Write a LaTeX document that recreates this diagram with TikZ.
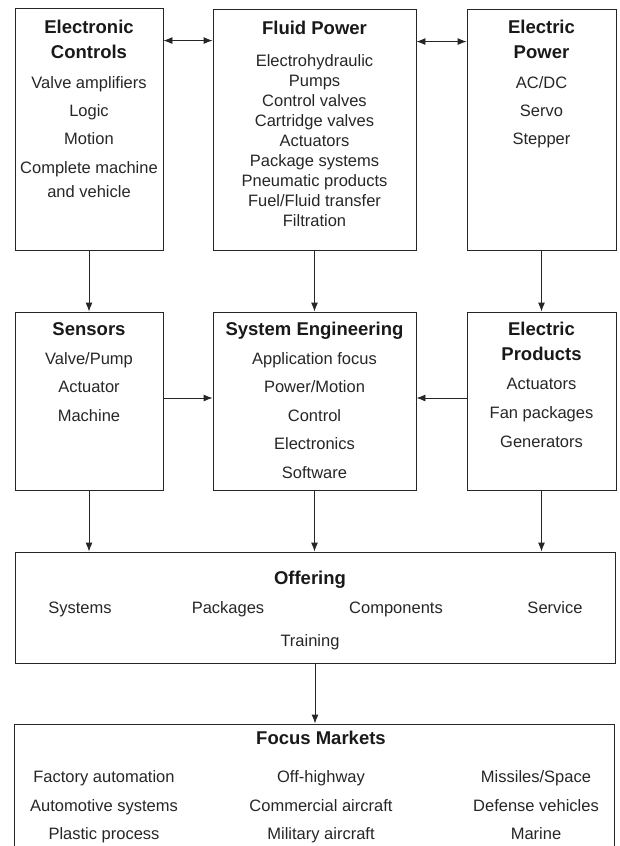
\documentclass[tikz,border=0pt]{standalone}
\usepackage{fontspec}
\setmainfont{Liberation Sans}
\usetikzlibrary{arrows.meta}
\begin{document}
\begin{tikzpicture}[x=1pt,y=-1pt,
  box/.style={draw=black!85,line width=0.9pt,inner sep=0pt},
  head/.style={anchor=base,inner sep=0pt,font=\fontsize{18.5}{20}\selectfont\bfseries,color=black!90},
  item/.style={anchor=base,inner sep=0pt,font=\fontsize{16.5}{20}\selectfont,color=black!85},
  >={Latex[length=9pt,width=7pt]}]
\useasboundingbox (0,0) rectangle (619,846);
\clip (0,0) rectangle (619,846);
% boxes
\node[box,minimum width=148pt,minimum height=242pt] (ec) at (89,129) {};
\node[box,minimum width=203pt,minimum height=241pt] (fp) at (314.5,129.5) {};
\node[box,minimum width=149pt,minimum height=241pt] (ep) at (541.5,129.5) {};
\node[box,minimum width=148pt,minimum height=178pt] (sens) at (89,401) {};
\node[box,minimum width=203pt,minimum height=178pt] (se) at (314.5,401) {};
\node[box,minimum width=149pt,minimum height=178pt] (epr) at (541.5,401) {};
\node[box,minimum width=600pt,minimum height=111pt] (off) at (315,607.5) {};
\node[box,minimum width=600pt,minimum height=146pt] (focus) at (314,797) {};
% top row texts
\node[head] (ecA) at (89,33) {Electronic};
\node[head] (ecB) at (89,58) {Controls};
\foreach \y/\t [count=\i] in {88/Valve amplifiers,116/Logic,144/Motion,173/Complete machine,197/and vehicle}
\node[item] (ec\i) at (89,\y) {\t};
\node[head] (fpA) at (314.5,34) {Fluid Power};
\foreach \t [count=\i] in {Electrohydraulic,Pumps,Control valves,Cartridge valves,Actuators,Package systems,Pneumatic products,{Fuel/Fluid transfer},Filtration}
\node[item] (fp\i) at (314.5,46+20*\i) {\t};
\node[head] (epA) at (541.5,33) {Electric};
\node[head] (epB) at (541.5,58) {Power};
\foreach \y/\t [count=\i] in {88/{AC/DC},116/Servo,144/Stepper}
\node[item] (ep\i) at (541.5,\y) {\t};
% middle row texts
\node[head] (sensA) at (89,335) {Sensors};
\foreach \t [count=\i] in {{Valve/Pump},Actuator,Machine}
\node[item] (sens\i) at (89,335.5+28.5*\i) {\t};
\node[head] (seA) at (314.5,335) {System Engineering};
\foreach \t [count=\i] in {Application focus,{Power/Motion},Control,Electronics,Software}
\node[item] (se\i) at (314.5,335.5+28.5*\i) {\t};
\node[head] (eprA) at (541.5,335) {Electric};
\node[head] (eprB) at (541.5,360) {Products};
\foreach \t [count=\i] in {Actuators,Fan packages,Generators}
\node[item] (epr\i) at (541.5,360+29*\i) {\t};
% offering
\node[head] (offA) at (310,584) {Offering};
\foreach \x/\t [count=\i] in {80/Systems,228/Packages,396/Components,555/Service}
\node[item] (off\i) at (\x,613) {\t};
\node[item] (off5) at (310,646) {Training};
% focus markets
\node[head] (fmA) at (321,744) {Focus Markets};
\foreach \x/\a/\b/\c [count=\i] in {104/Factory automation/Automotive systems/Plastic process,
  321/Off-highway/Commercial aircraft/Military aircraft,
  536/{Missiles/Space}/Defense vehicles/Marine}
{
\node[item] (fm\i a) at (\x,782) {\a};
\node[item] (fm\i b) at (\x,811) {\b};
\node[item] (fm\i c) at (\x,839) {\c};
}
% connectors
\begin{scope}[line width=0.9pt,draw=black!85]
\draw[<->] ([yshift=-33pt]ec.north east) -- ([yshift=-33pt]ec.north east -| fp.west);
\draw[<->] ([yshift=-33pt]fp.north east) -- ([yshift=-33pt]fp.north east -| ep.west);
\foreach \a/\b in {ec/sens,fp/se,ep/epr}
\draw[->] (\a) -- (\b);
\foreach \a in {sens,se,epr}
\draw[->] (\a.south) -- (\a.south |- off.north);
\draw[->] ([yshift=3pt]sens.east) -- ([yshift=3pt]sens.east -| se.west);
\draw[->] ([yshift=3pt]epr.west) -- ([yshift=3pt]epr.west -| se.east);
\draw[->] (off.south) -- (off.south |- focus.north);
\end{scope}
\end{tikzpicture}
\end{document}
